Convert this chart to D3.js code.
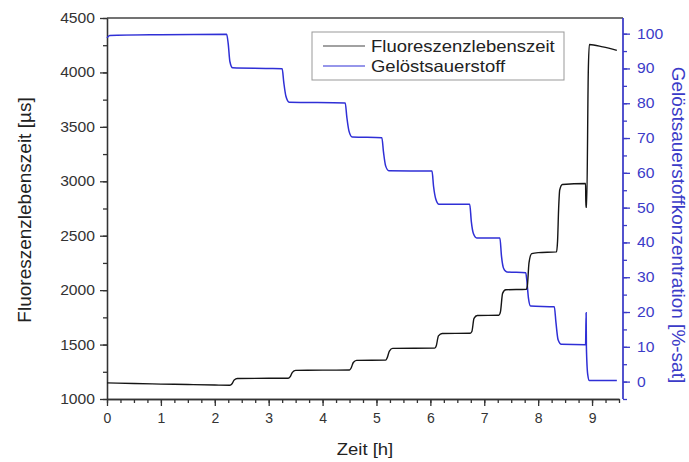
<!DOCTYPE html>
<html>
<head>
<meta charset="utf-8">
<script src="https://cdn.jsdelivr.net/npm/d3@7"></script>
<style>
	body { margin: 0; background: #fff; }
	svg { display: block; font-family: 'Liberation Sans', Arial, sans-serif; }
</style>
</head>
<body>
<svg id="chart" width="689" height="462"></svg>
<script>
// Fluoreszenzlebenszeit [µs] over time [h]
const lifeTime = [0, 0.5, 1, 1.5, 2, 2.28, 2.32, 2.36, 2.42, 3, 3.36,
	3.4, 3.44, 3.5, 4, 4.5, 4.53, 4.57, 4.63, 5.17,
	5.2, 5.24, 5.3, 6.08, 6.11, 6.15, 6.22, 6.74,
	6.77, 6.81, 6.87, 7.27, 7.3, 7.34, 7.4, 7.78,
	7.8, 7.83, 7.88, 8, 8.34, 8.36, 8.38, 8.4, 8.45, 8.88,
	8.885, 8.9, 8.93, 8.95, 9.2, 9.46]
const lifeVal = [1148, 1142, 1137, 1133, 1128, 1126, 1140, 1175, 1188, 1190, 1190,
	1205, 1245, 1263, 1265, 1266, 1285, 1335, 1355, 1357,
	1380, 1440, 1465, 1467, 1490, 1580, 1602, 1604,
	1620, 1740, 1767, 1770, 1800, 1970, 2003, 2008,
	2040, 2250, 2335, 2345, 2352, 2450, 2750, 2920, 2970, 2980,
	2760, 2760, 4000, 4257, 4235, 4203]

// Gelöstsauerstoff [%-sat] over time [h]
const oxyTime = [0, 0.05, 1, 2.22, 2.25, 2.28, 2.33, 3, 3.25, 3.28, 3.32, 3.38,
	4.42, 4.45, 4.49, 4.55, 5.1, 5.13, 5.17, 5.23, 6.03, 6.06, 6.1, 6.16,
	6.73, 6.76, 6.8, 6.86, 7.29, 7.32, 7.36, 7.42, 7.77, 7.79, 7.82, 7.86,
	8.3, 8.33, 8.37, 8.43, 8.88, 8.89, 8.895, 8.92, 8.95, 9.46]
const oxyVal = [98.8, 99.5, 99.7, 99.8, 97, 92, 90.2, 90, 89.9, 86, 82, 80.3,
	80.1, 76, 72, 70.3, 70.1, 66, 62, 60.6, 60.5, 56, 52.5, 51,
	51, 46, 42.5, 41.3, 41.3, 36, 32.5, 31.5, 31.3, 29, 24, 21.7,
	21.5, 17, 12, 10.7, 10.6, 19.8, 10, 2, 0.3, 0.3]

const xTicks = [0, 1, 2, 3, 4, 5, 6, 7, 8, 9]
const yLeftTicks = [1000, 1500, 2000, 2500, 3000, 3500, 4000, 4500]
const yRightTicks = [0, 10, 20, 30, 40, 50, 60, 70, 80, 90, 100]
const seriesNames = ['Fluoreszenzlebenszeit', 'Gelöstsauerstoff']

const stretch = 1.12
const axisCol = '#333',
	blueAxis = '#3b3bc8',
	blackLine = '#151515',
	blueLine = '#2f2fd6'

const svg = d3.select('#chart')
const mLeft = 107, mRight = 623, mTop = 18, mBottom = 399

const x = d3.scaleLinear().domain([0, 9.5]).range([mLeft, 619])
const yL = d3.scaleLinear().domain([1000, 4500]).range([mBottom, mTop])
const yR = d3.scaleLinear().domain([-5, 104.5]).range([mBottom, mTop])
const fmt = d3.format('d')

function styleText(sel, col) {
	sel.selectAll('text')
		.attr('fill', col)
		.style('font-size', '14px')
		.attr('transform', `scale(${stretch},1)`)
}

// top frame
svg.append('line')
	.attr('x1', mLeft).attr('x2', mRight)
	.attr('y1', mTop).attr('y2', mTop)
	.attr('stroke', '#444').attr('stroke-width', 1.5)

// left axis
let gL = svg.append('g').attr('transform', `translate(${mLeft},0)`)
gL.append('g').call(d3.axisLeft(yL).tickValues(d3.range(1000, 4501, 250)).tickSize(4).tickFormat('').tickSizeOuter(0))
gL.append('g').call(d3.axisLeft(yL).tickValues(yLeftTicks).tickFormat(fmt).tickSize(7).tickPadding(3.7).tickSizeOuter(0))
gL.selectAll('path, line').attr('stroke', axisCol).attr('stroke-width', 1.3)
styleText(gL, axisCol)

// bottom axis
let gB = svg.append('g').attr('transform', `translate(0,${mBottom})`)
gB.append('g').call(d3.axisBottom(x).tickValues(d3.range(0, 9.51, 0.25)).tickSize(4).tickFormat('').tickSizeOuter(0))
gB.append('g').call(d3.axisBottom(x).tickValues(xTicks).tickFormat(fmt).tickSize(7).tickPadding(7).tickSizeOuter(0))
gB.selectAll('path, line').attr('stroke', axisCol).attr('stroke-width', 1.3)
gB.selectAll('text').attr('fill', axisCol).style('font-size', '14px')

// right axis
let gR = svg.append('g').attr('transform', `translate(${mRight},0)`)
gR.append('g').call(d3.axisRight(yR).tickValues(d3.range(-5, 105, 5)).tickSize(4).tickFormat('').tickSizeOuter(0))
gR.append('g').call(d3.axisRight(yR).tickValues(yRightTicks).tickFormat(fmt).tickSize(7).tickPadding(5.5).tickSizeOuter(0))
gR.selectAll('.domain').attr('d', `M0,${mTop}V${mBottom}`)
gR.selectAll('path, line').attr('stroke', blueAxis).attr('stroke-width', 1.3)
styleText(gR, blueAxis)

// series
const lifeData = lifeTime.map((t, i) => [t, lifeVal[i]])
const oxyData = oxyTime.map((t, i) => [t, oxyVal[i]])

svg.append('path')
	.datum(oxyData)
	.attr('fill', 'none')
	.attr('stroke', blueLine)
	.attr('stroke-width', 1.5)
	.attr('d', d3.line().x(d => x(d[0])).y(d => yR(d[1])).curve(d3.curveMonotoneX))

svg.append('path')
	.datum(lifeData)
	.attr('fill', 'none')
	.attr('stroke', blackLine)
	.attr('stroke-width', 1.4)
	.attr('d', d3.line().x(d => x(d[0])).y(d => yL(d[1])).curve(d3.curveMonotoneX))

// axis titles
svg.append('text')
	.attr('transform', 'translate(31,210) rotate(-90)')
	.attr('text-anchor', 'middle')
	.attr('fill', '#222')
	.style('font-size', '19px')
	.text('Fluoreszenzlebenszeit [µs]')

svg.append('text')
	.attr('transform', 'translate(672,225) rotate(90)')
	.attr('text-anchor', 'middle')
	.attr('fill', blueAxis)
	.style('font-size', '19px')
	.text('Gelöstsauerstoffkonzentration [%-sat]')

svg.append('text')
	.attr('transform', `translate(365,455) scale(${stretch},1)`)
	.attr('text-anchor', 'middle')
	.attr('fill', '#222')
	.style('font-size', '16.5px')
	.text('Zeit [h]')

// legend
let lg = svg.append('g')
lg.append('rect')
	.attr('x', 312).attr('y', 32).attr('width', 252).attr('height', 48)
	.attr('fill', '#fff').attr('stroke', '#999').attr('stroke-width', 1)

seriesNames.forEach((name, i) => {
	let yy = 46 + i * 20
	lg.append('line')
		.attr('x1', 323).attr('x2', 365).attr('y1', yy).attr('y2', yy)
		.attr('stroke', i == 0 ? '#444' : blueLine).attr('stroke-width', 1.2)
	lg.append('text')
		.attr('transform', `translate(371,${yy + 6}) scale(${stretch},1)`)
		.attr('fill', '#222')
		.style('font-size', '16.5px')
		.text(name)
})
</script>
</body>
</html>
